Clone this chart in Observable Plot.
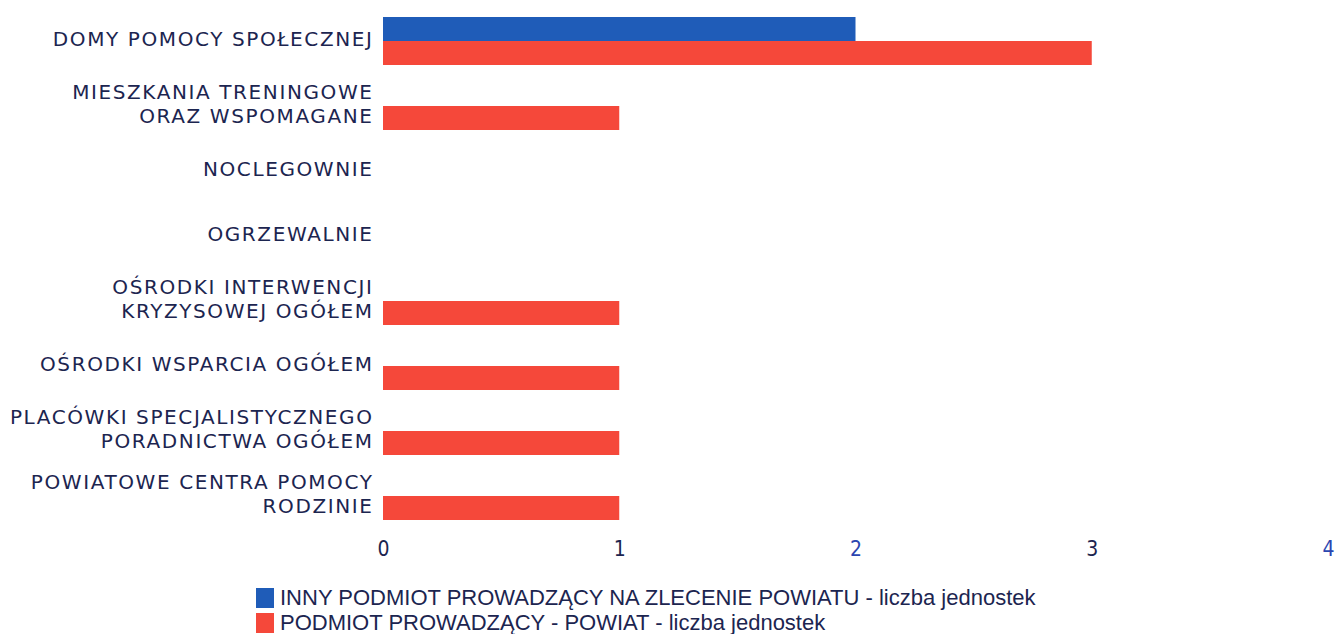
<!DOCTYPE html>
<html>
<head>
<meta charset="utf-8">
<script src="https://cdn.jsdelivr.net/npm/d3@7"></script>
<script src="https://cdn.jsdelivr.net/npm/@observablehq/plot@0.6"></script>
<style>
  html, body { margin: 0; padding: 0; background: #fff; }
  #wrap { position: relative; width: 1337px; height: 634px; }
  #legend { position: absolute; left: 256px; top: 585px; font-family: "Liberation Sans", Arial, sans-serif; font-size: 22px; line-height: 25px; color: #1c2550; }
  .item { display: flex; align-items: center; height: 25px; }
  .sw { width: 18px; height: 20px; margin-right: 6px; }
  g[aria-label="y-axis tick label"] text { font-family: "DejaVu Sans", sans-serif; letter-spacing: 1.6px; }
</style>
</head>
<body>
<div id="wrap"><div id="chart"></div><div id="legend"></div></div>
<script>
const categories = [
  "DOMY POMOCY SPOŁECZNEJ",
  "MIESZKANIA TRENINGOWE\nORAZ WSPOMAGANE",
  "NOCLEGOWNIE",
  "OGRZEWALNIE",
  "OŚRODKI INTERWENCJI\nKRYZYSOWEJ OGÓŁEM",
  "OŚRODKI WSPARCIA OGÓŁEM",
  "PLACÓWKI SPECJALISTYCZNEGO\nPORADNICTWA OGÓŁEM",
  "POWIATOWE CENTRA POMOCY\nRODZINIE"
];
const seriesNames = [
  "INNY PODMIOT PROWADZĄCY NA ZLECENIE POWIATU - liczba jednostek",
  "PODMIOT PROWADZĄCY - POWIAT - liczba jednostek"
];
const innyValues = [2, 0, 0, 0, 0, 0, 0, 0];
const powiatValues = [3, 1, 0, 0, 1, 1, 1, 1];
const xTicksDark = [0, 1, 3];
const xTicksBlue = [2, 4];
const seriesColors = ["#1f5cb8", "#f5483a"];

const innyData = categories.map((c, i) => ({category: c, value: innyValues[i]}));
const powiatData = categories.map((c, i) => ({category: c, value: powiatValues[i]}));

const textColor = "#1c2550";
const bandH = 48;
const tickFont = "'Liberation Sans Narrow', 'DejaVu Sans Condensed', 'Liberation Sans', sans-serif";

const chart = Plot.plot({
  width: 1337,
  height: 575,
  marginLeft: 383,
  marginRight: 9,
  marginTop: 6.5,
  marginBottom: 44.5,
  style: {fontFamily: "'DejaVu Sans', sans-serif", background: "#fff", overflow: "visible"},
  x: {domain: [0, 4]},
  y: {domain: categories, paddingInner: 0.26, paddingOuter: 0.13},
  marks: [
    Plot.barX(innyData, {y: "category", x: "value", fill: seriesColors[0], insetBottom: bandH / 2}),
    Plot.barX(powiatData, {y: "category", x: "value", fill: seriesColors[1], insetTop: bandH / 2}),
    Plot.axisY({tickSize: 0, tickPadding: 10, fontSize: 20, fill: textColor, lineHeight: 1.2, label: null,
      dy: -3, fontFamily: "DejaVu Sans"}),
    Plot.axisX({ticks: xTicksDark, tickFormat: "d", tickSize: 0, tickPadding: 10, fontSize: 21, fill: textColor, label: null,
      fontFamily: tickFont}),
    Plot.axisX({ticks: xTicksBlue, tickFormat: "d", tickSize: 0, tickPadding: 10, fontSize: 21, fill: "#2b46b0", label: null,
      fontFamily: tickFont})
  ]
});
document.getElementById("chart").appendChild(chart);

const legend = document.getElementById("legend");
seriesNames.forEach((name, i) => {
  const item = document.createElement("div");
  item.className = "item";
  const sw = document.createElement("div");
  sw.className = "sw";
  sw.style.background = seriesColors[i];
  const t = document.createElement("span");
  t.textContent = name;
  item.appendChild(sw);
  item.appendChild(t);
  legend.appendChild(item);
});
</script>
</body>
</html>
